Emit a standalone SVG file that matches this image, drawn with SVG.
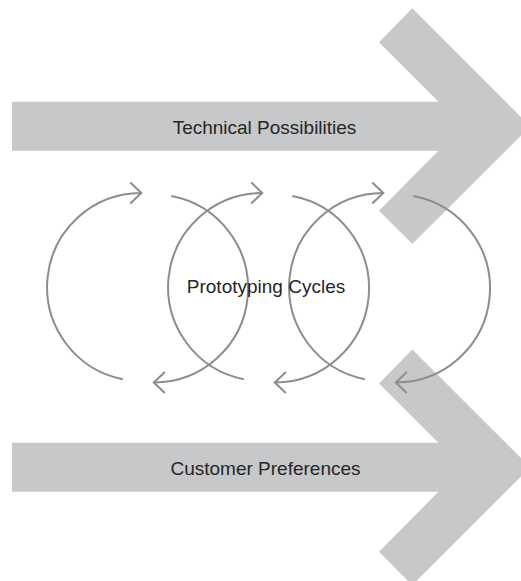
<svg xmlns="http://www.w3.org/2000/svg" width="521" height="581" viewBox="0 0 521 581">
  <style>
    .band { fill: #c7c8ca; }
    .lbl { font-family: "Liberation Sans", Arial, Helvetica, sans-serif; font-size: 19px; fill: #262626; text-anchor: middle; }
    .arc { fill: none; stroke: #8d8d8f; stroke-width: 2; marker-end: url(#ah); }
  </style>
  <defs>
    <marker id="ah" markerUnits="userSpaceOnUse" markerWidth="30" markerHeight="30" viewBox="-15 -15 30 30" refX="0" refY="0" orient="auto" overflow="visible">
      <path d="M-11,-10.5 L0,0 L-11,10.5" fill="none" stroke="#8d8d8f" stroke-width="2"/>
    </marker>
  </defs>
  <rect width="521" height="581" fill="#ffffff"/>
  <g id="technical-possibilities">
    <polygon class="band" points="12,101.7 438.4,101.7 379,42.3 412.3,8.3 530.2,126.2 412.3,244.1 379,210.7 438.4,150.7 12,150.7"/>
    <text class="lbl" x="264.5" y="133.5">Technical Possibilities</text>
  </g>
  <g id="customer-preferences">
    <polygon class="band" points="12,442.8 438.4,442.8 379,383.4 412.3,349.4 530.2,467.3 412.3,585.2 379,551.8 438.4,491.8 12,491.8"/>
    <text class="lbl" x="265.5" y="474.5">Customer Preferences</text>
  </g>
  <g id="connectors">
    <path class="arc" d="M122.8,379.2 A94,94 0 0 1 141.3,193"/>
    <path class="arc" d="M171.3,196 A94,94 0 0 1 153.8,382.4"/>
    <path class="arc" d="M243.8,379.2 A94,94 0 0 1 262.3,193"/>
    <path class="arc" d="M292.3,196 A94,94 0 0 1 274.8,382.4"/>
    <path class="arc" d="M364.8,379.2 A94,94 0 0 1 383.3,193"/>
    <path class="arc" d="M413.3,196 A94,94 0 0 1 395.8,382.4"/>
  </g>
  <g id="prototyping-cycles">
    <text class="lbl" x="266" y="292.5">Prototyping Cycles</text>
  </g>
</svg>
